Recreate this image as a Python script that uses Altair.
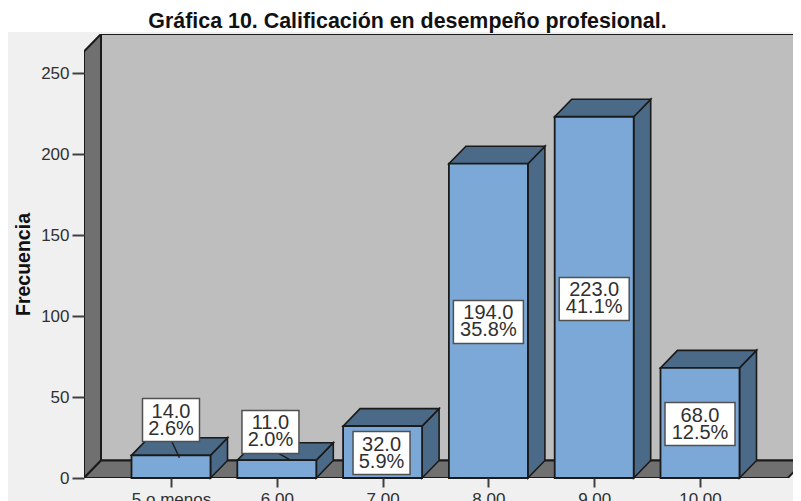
import altair as alt
import pandas as pd

# ---- values ----
categories = ["5 o menos", "6.00", "7.00", "8.00", "9.00", "10.00"]
counts = [14, 11, 32, 194, 223, 68]
percents = [2.6, 2.0, 5.9, 35.8, 41.1, 12.5]
label_centre_y = [35.8, 28.4, 15.4, 96.3, 110.5, 33.3]
label_centre_x = [0.0, 0.94, 1.99, 3.0, 4.0, 5.0]
leader_start = [(0.01, 22.2), (1.02, 15.0), None, None, None, None]
leader_end = [(0.08, 12.5), (1.13, 11.0), None, None, None, None]
y_ticks = [0, 50, 100, 150, 200, 250]

# ---- scale and style ----
PX_X = 105.8            # px per category
PX_Y = 1.62             # px per count
W, H = 709, 444
X_DOMAIN = [-87 / PX_X, (W - 87) / PX_X]
Y_DOMAIN = [0, H / PX_Y]
HALF_BAR = 39.5 / PX_X
DX = 17 / PX_X          # oblique depth, in x units
DY = 17.5 / PX_Y        # oblique depth, in y units
HALF_BOX_H = 21.5 / PX_Y

FRONT = "#7BA8D6"
SHADE = "#4A6A88"
WALL = "#707070"
BACK = "#BEBEBE"
PAGE = "#F0F0F0"
EDGE = "#1A1A1A"
TEXT = "#303030"
FONT = "Liberation Sans"

x_scale = alt.Scale(domain=X_DOMAIN, nice=False, zero=False)
y_scale = alt.Scale(domain=Y_DOMAIN, nice=False, zero=False)
labels_expr = "[" + ",".join(f"'{c}'" for c in categories) + "][datum.value]"

x_enc = alt.X(
    "x:Q", scale=x_scale, title=None,
    axis=alt.Axis(values=list(range(len(categories))), labelExpr=labels_expr, grid=False, domain=False,
                  zindex=1, tickSize=9, tickWidth=2, tickColor="#404040", labelFont=FONT, labelFontSize=17,
                  labelColor=TEXT, labelPadding=4, labelOverlap=False, labelBaseline="top", labelFlush=False),
)
y_axis = alt.Axis(values=y_ticks, grid=False, domain=False, zindex=1, tickSize=12, tickWidth=2,
                  tickColor="#404040", labelFont=FONT, labelFontSize=17, labelColor=TEXT, labelPadding=3,
                  title="Frecuencia", titleFont=FONT, titleFontSize=19.5,
                  titleFontWeight="bold", titleColor="#111111", titleX=-61, titleY=230,
                  titleAlign="center", titleBaseline="middle", titleAngle=270)
y_enc = alt.Y("y:Q", scale=y_scale, title="Frecuencia", axis=y_axis)

# ---- page, walls and floor ----
page = alt.Chart(pd.DataFrame({"k": [0]})).mark_rect(fill=PAGE).encode(
    x=alt.value(-78), x2=alt.value(W), y=alt.value(-2), y2=alt.value(H + 30))
back = alt.Chart(pd.DataFrame({"x": [X_DOMAIN[0] + DX], "x2": [X_DOMAIN[1] + 1], "y": [DY], "y2": [Y_DOMAIN[1]]})).mark_rect(
    fill=BACK, stroke=EDGE, strokeWidth=2, clip=True
).encode(x=x_enc, x2="x2:Q", y=y_enc, y2="y2:Q")

xl = X_DOMAIN[0]
yt = Y_DOMAIN[1]
wall_df = pd.DataFrame({
    "id": ["wall"] * 2,
    "x": [xl, xl + DX],
    "y": [0, DY],
    "y2": [yt - DY, yt],
})
floor_right = 5.83
floor_df = pd.DataFrame({
    "id": ["floor"] * 4,
    "x": [xl, xl + DX, floor_right, floor_right + DX],
    "y": [0, 0, 0, DY],
    "y2": [0, DY, DY, DY],
})
walls = alt.Chart(pd.concat([wall_df, floor_df])).mark_area(
    orient="vertical", fill=WALL, stroke=EDGE, strokeWidth=2, clip=True
).encode(x=x_enc, y=y_enc, y2="y2:Q", detail="id:N")

# ---- bars ----
front_rows, side_rows, top_rows = [], [], []
for i, v in enumerate(counts):
    l, r = i - HALF_BAR, i + HALF_BAR
    front_rows.append({"x": l, "x2": r, "y": 0, "y2": v})
    side_rows += [
        {"id": i, "x": r, "y": 0, "y2": v},
        {"id": i, "x": r + DX, "y": DY, "y2": v + DY},
    ]
    top_rows += [
        {"id": i, "x": l, "y": v, "y2": v},
        {"id": i, "x": l + DX, "y": v, "y2": v + DY},
        {"id": i, "x": r, "y": v, "y2": v + DY},
        {"id": i, "x": r + DX, "y": v + DY, "y2": v + DY},
    ]
side = alt.Chart(pd.DataFrame(side_rows)).mark_area(
    orient="vertical", fill=SHADE, stroke=EDGE, strokeWidth=1.6
).encode(x=x_enc, y=y_enc, y2="y2:Q", detail="id:N")
top = alt.Chart(pd.DataFrame(top_rows)).mark_area(
    orient="vertical", fill=SHADE, stroke=EDGE, strokeWidth=1.6
).encode(x=x_enc, y=y_enc, y2="y2:Q", detail="id:N")
front = alt.Chart(pd.DataFrame(front_rows)).mark_rect(
    fill=FRONT, stroke=EDGE, strokeWidth=1.8
).encode(x=x_enc, x2="x2:Q", y=y_enc, y2="y2:Q")

# ---- labels ----
box_rows, text_rows = [], []
for i, (c, p) in enumerate(zip(counts, percents)):
    half = (28.5 if i < 3 else 35) / PX_X
    box_rows.append({
        "x": label_centre_x[i] - half, "x2": label_centre_x[i] + half,
        "y": label_centre_y[i] - HALF_BOX_H, "y2": label_centre_y[i] + HALF_BOX_H,
    })
    text_rows.append({
        "x": label_centre_x[i], "y": label_centre_y[i],
        "line1": f"{c:.1f}", "line2": f"{p:.1f}%",
    })
box_df = pd.DataFrame(box_rows)
text_df = pd.DataFrame(text_rows)
leader_rows = []
for i, (s, e) in enumerate(zip(leader_start, leader_end)):
    if s:
        leader_rows += [{"id": i, "x": s[0], "y": s[1]}, {"id": i, "x": e[0], "y": e[1]}]
leaders = alt.Chart(pd.DataFrame(leader_rows)).mark_line(color=EDGE, strokeWidth=1.4).encode(
    x=x_enc, y=y_enc, detail="id:N")
boxes = alt.Chart(box_df).mark_rect(fill="white", stroke="#505050", strokeWidth=1.5).encode(
    x=x_enc, x2="x2:Q", y=y_enc, y2="y2:Q")
text1 = alt.Chart(text_df).mark_text(
    font=FONT, fontSize=20, color=TEXT, baseline="middle", align="center", dy=-8.5
).encode(x=x_enc, y=y_enc, text="line1:N")
text2 = alt.Chart(text_df).mark_text(
    font=FONT, fontSize=20, color=TEXT, baseline="middle", align="center", dy=8.5
).encode(x=x_enc, y=y_enc, text="line2:N")

chart = alt.layer(page, back, walls, side, top, front, leaders, boxes, text1, text2).properties(
    width=W,
    height=H,
    padding={"left": 76, "top": 26, "right": 0, "bottom": 23},
    autosize=alt.AutoSizeParams(type="none"),
    background="white",
    title=alt.TitleParams(
        "Gráfica 10. Calificación en desempeño profesional.",
        font=FONT, fontSize=21.4, fontWeight="bold", color="#111111",
        anchor="middle", frame="group", dx=-31, offset=-21, baseline="bottom",
    ),
).configure_view(stroke=None)

chart.save("out.html", embed_options={"renderer": "svg", "actions": False})
